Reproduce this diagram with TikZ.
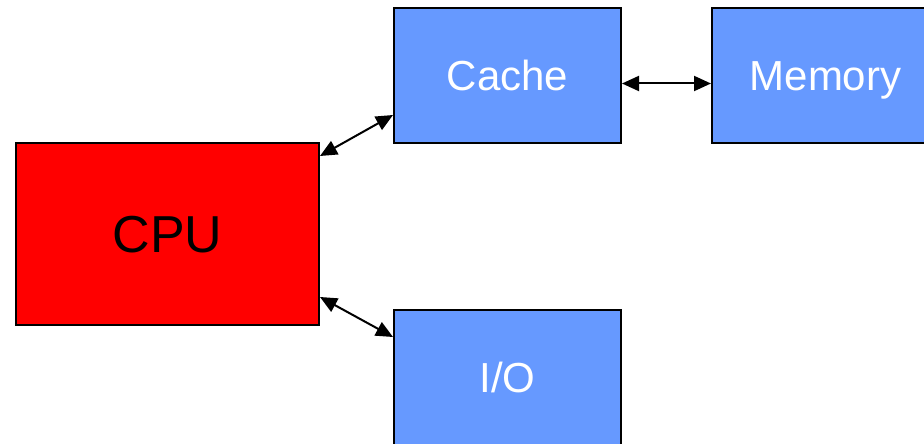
\documentclass[tikz,border=0pt]{standalone}
\usepackage{fontspec}
\setmainfont{Liberation Sans}
\usetikzlibrary{arrows.meta,positioning}

\definecolor{unitblue}{RGB}{102,153,255}

\begin{document}
\begin{tikzpicture}[x=1pt,y=-1pt]
\tikzstyle{unit}=[draw=black,line width=2pt,fill=unitblue,text=white,inner sep=0pt,
  minimum width=227pt,minimum height=135pt,font=\fontsize{42}{48}\selectfont,
  text height=30pt,text depth=0pt]
\tikzstyle{link}=[line width=2pt,{Triangle[length=17pt,width=15pt]}-{Triangle[length=17pt,width=15pt]}]
\useasboundingbox (0,0) rectangle (924,444);
\clip (0,0) rectangle (924,444);
% boxes
\node [unit,fill=red,text=black,minimum width=303pt,minimum height=182pt,
  font=\fontsize{52}{58}\selectfont,text height=37pt] (cpu) at (167.5,234) {CPU};
\node [unit] (cache) at (507.5,75.5) {Cache};
\node [unit] (memory) at (825.5,75.5) {Memory};
\node [unit] (io) at (507.5,377.5) {I/O};
% links
\draw [link] ([yshift=-14pt]cpu.north east) -- ([yshift=29pt]cache.south west);
\draw [link] ([yshift=29pt]cpu.south east) -- ([yshift=-28pt]io.north west);
\draw [link] ([yshift=-8pt]cache.east) -- ([yshift=-8pt]memory.west);
\end{tikzpicture}
\end{document}
